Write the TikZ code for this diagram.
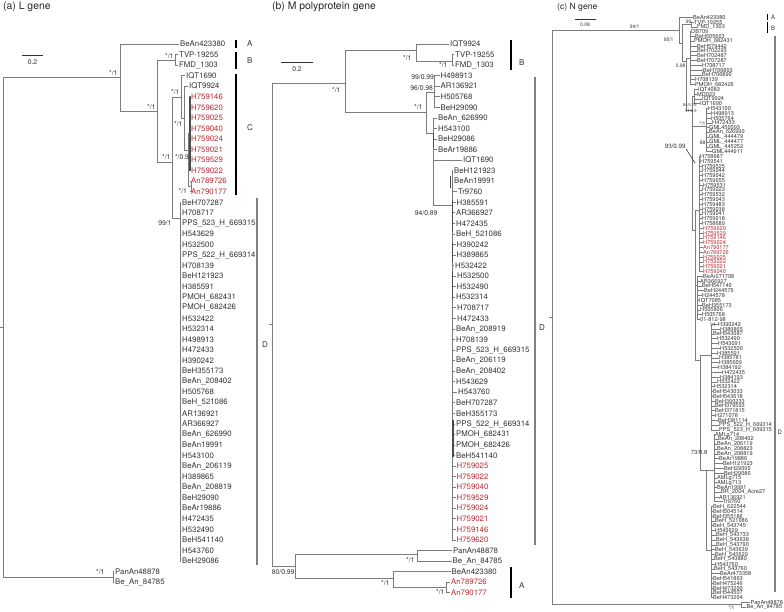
\documentclass[tikz,border=0pt]{standalone}
\usepackage{fontspec}
\setmainfont{TeX Gyre Heros}
\usetikzlibrary{positioning}
\definecolor{branchgray}{HTML}{7C7C7C}
\definecolor{leafgray}{HTML}{333333}
\definecolor{isored}{HTML}{C1272D}
\tikzset{
  branch/.style={draw=branchgray, line width=0.6pt},
  shortbranch/.style={draw=black!70, line width=1.3pt},
  leaf/.style={anchor=west, inner sep=1pt, text=leafgray, font=\fontsize{7.8}{8}\selectfont},
  redleaf/.style={leaf, text=isored},
  tinyleaf/.style={anchor=west, inner sep=0.4pt, text=leafgray, font=\fontsize{5.6}{5.6}\selectfont},
  tinyred/.style={tinyleaf, text=isored},
  support/.style={anchor=east, inner sep=0.3pt, text=leafgray, font=\fontsize{6.8}{7}\selectfont},
  tinysupport/.style={support, font=\fontsize{5}{5}\selectfont},
  cladebar/.style={draw=black, line width=1.1pt},
  wideclade/.style={draw=black!50, line width=2pt},
  cladelabel/.style={anchor=west, inner sep=0pt, text=leafgray, font=\fontsize{8}{8}\selectfont},
  tinyclade/.style={cladelabel, font=\fontsize{6}{6}\selectfont},
  paneltitle/.style={anchor=west, inner sep=0pt, text=black!85, font=\fontsize{10.4}{11}\selectfont},
  scalebar/.style={draw=leafgray, line width=0.6pt}
}

\begin{document}
\begin{tikzpicture}[x=1pt, y=-1pt]
  \useasboundingbox (0,0) rectangle (784,612);

  % (a) L gene
  \node[paneltitle] (ta) at (3,7) {(a) L gene};
  \draw[scalebar] (22,55) -- (43,55);
  \node[support, anchor=center] (sca) at (32.5,62) {0.2};

  \coordinate (aS) at (0,327);
  \coordinate (aR) at (3,327);
  \coordinate (aN1) at (120,77);
  \coordinate (aO) at (113,577);
  \coordinate (aN2) at (157,111);
  \coordinate (aB) at (175,60);
  \coordinate (aCD) at (172,162);
  \coordinate (aC) at (181,97);
  \coordinate (aC2) at (184,118);
  \coordinate (aC3) at (188,150);
  \coordinate (aC4) at (189.5,133);
  \coordinate (aC5) at (191,186);
  \coordinate (aD) at (180,218);

  \node[leaf] (a0) at (179,44) {BeAn423380};
  \node[leaf] (a1) at (178,54.55) {TVP-19255};
  \node[leaf] (a2) at (178,65.1) {FMD\_1303};
  \node[leaf] (a3) at (185,75.65) {IQT1690};
  \node[leaf] (a4) at (188,86.2) {IQT9924};
  \foreach \name [count=\i from 5] in {H759146, H759620, H759025, H759040, H759024, H759021, H759529, H759022, An789726, An790177}
    \node[redleaf] (a\i) at (190,{44+10.55*\i}) {\name};
  \foreach \name [count=\i from 15] in {BeH707287, H708717, PPS\_523\_H\_669315, H543629, H532500, PPS\_522\_H\_669314, H708139, BeH121923, H385591, PMOH\_682431, PMOH\_682426, H532422, H532314, H498913, H472433, H390242, BeH355173, BeAn\_208402, H505768, BeH\_521086, AR136921, AR366927, BeAn\_626990, BeAn19991, H543100, BeAn\_206119, H389865, BeAn\_208819, BeH29090, BeAr19886, H472435, H532490, BeH541140, H543760, BeH29086}
    \node[leaf] (a\i) at (181,{44+10.55*\i}) {\name};
  \node[leaf] (a50) at (114,571.5) {PanAn48878};
  \node[leaf] (a51) at (114,582) {Be\_An\_84785};

  \draw[branch] (aS) -- (aR);
  \draw[branch] (aR) |- (aN1);
  \draw[branch] (aR) |- (aO);
  \draw[branch] (aN1) |- (a0.west);
  \draw[branch] (aN1) |- (aN2);
  \draw[branch] (aN2) |- (aB);
  \draw[branch] (aN2) |- (aCD);
  \draw[branch] (aB) |- (a1.west);
  \draw[branch] (aB) |- (a2.west);
  \draw[branch] (aCD) |- (aC);
  \draw[branch] (aCD) |- (aD);
  \draw[branch] (aC) |- (a3.west);
  \draw[branch] (aC) |- (aC2);
  \draw[branch] (aC2) |- (a4.west);
  \draw[branch] (aC2) |- (aC3);
  \draw[branch] (aC3) |- (aC4);
  \draw[branch] (aC3) |- (aC5);
  \foreach \i in {5,...,12}
    \draw[branch] (aC4) |- (a\i.west);
  \draw[shortbranch] (a5.west) -- (a12.west);
  \draw[branch] (aC5) |- (a13.west);
  \draw[branch] (aC5) |- (a14.west);
  \foreach \i in {15,...,49}
    \draw[branch] (aD) |- (a\i.west);
  \draw[branch] (aO) |- (a50.west);
  \draw[branch] (aO) |- (a51.west);

  \node[support] (sa1) at (118,73) {*/1};
  \node[support] (sa2) at (156,107) {*/1};
  \node[support] (sa3) at (174,56) {*/1};
  \node[support] (sa4) at (180,92) {*/1};
  \node[support] (sa5) at (183,124) {*/1};
  \node[support] (sa6) at (171,157) {*/1};
  \node[support] (sa7) at (189.5,157) {*/0.9};
  \node[support] (sa8) at (187.5,191) {*/1};
  \node[support] (sa9) at (172,223) {99/1};
  \node[support] (sa10) at (105,572) {*/1};

  \draw[cladebar] (236,40) -- (236,48);
  \draw[cladebar] (236,52) -- (236,69);
  \draw[cladebar] (236,74) -- (236,195);
  \draw[wideclade] (257,198) -- (257,565);
  \node[cladelabel] (ka) at (247,44) {A};
  \node[cladelabel] (kb) at (247,61) {B};
  \node[cladelabel] (kc) at (247,128) {C};
  \node[cladelabel] (kd) at (262,345) {D};

  % (b) M polyprotein gene
  \node[paneltitle] (tb) at (272,7) {(b) M polyprotein gene};
  \draw[scalebar] (281,62) -- (313,62);
  \node[support, anchor=center] (scb) at (297,69) {0.2};

  \coordinate (bS) at (268.5,324);
  \coordinate (bR) at (272,324);
  \coordinate (bN1) at (345,83);
  \coordinate (bO) at (295,566);
  \coordinate (bB) at (416,50);
  \coordinate (bB2) at (452,61);
  \coordinate (bN2) at (426,112);
  \coordinate (bE1) at (434,92);
  \coordinate (bN3) at (433,133);
  \coordinate (bD) at (452,205);
  \coordinate (bP) at (417,554);
  \coordinate (bA) at (393,578);
  \coordinate (bA2) at (446,587);

  \node[leaf] (b0) at (449,44) {IQT9924};
  \node[leaf] (b1) at (454,54.55) {TVP-19255};
  \node[leaf] (b2) at (454,65.1) {FMD\_1303};
  \foreach \name [count=\i from 3] in {H498913, AR136921, H505768, BeH29090}
    \node[leaf] (b\i) at (439.5,{44+10.55*\i}) {\name};
  \foreach \name [count=\i from 7] in {BeAn\_626990, H543100, BeH29086, BeAr19886}
    \node[leaf] (b\i) at (437,{44+10.55*\i}) {\name};
  \node[leaf] (b11) at (462,160) {IQT1690};
  \foreach \x/\name [count=\i from 12] in {453/BeH121923, 453/BeAn19991, 457/Tr9760, 455.5/H385591, 455/AR366927, 455/H472435, 455/BeH\_521086, 455.5/H390242, 455.5/H389865, 454/H532422, 456/H532500, 455.5/H532490, 455/H532314, 456/H708717, 456/H472433, 455/BeAn\_208919, 455/H708139, 455/PPS\_523\_H\_669315, 455/BeAn\_206119, 455/BeAn\_208402, 455/H543629, 457/H543760, 455/BeH707287, 455/BeH355173, 455/PPS\_522\_H\_669314, 455/PMOH\_682431, 455/PMOH\_682426, 455/BeH541140}
    \node[leaf] (b\i) at (\x,{44+10.55*\i}) {\name};
  \foreach \name [count=\i from 40] in {H759025, H759022, H759040, H759529, H759024, H759021, H759146, H759620}
    \node[redleaf] (b\i) at (455.5,{44+10.55*\i}) {\name};
  \node[leaf] (b48) at (452,550.4) {PanAn48878};
  \node[leaf] (b49) at (451.5,561) {Be\_An\_84785};
  \node[leaf] (b50) at (450.5,571.5) {BeAn423380};
  \node[redleaf] (b51) at (450,582) {An789726};
  \node[redleaf] (b52) at (450,592.6) {An790177};

  \draw[branch] (bS) -- (bR);
  \draw[branch] (bR) |- (bN1);
  \draw[branch] (bR) |- (bO);
  \draw[branch] (bN1) |- (bB);
  \draw[branch] (bN1) |- (bN2);
  \draw[branch] (bB) |- (b0.west);
  \draw[branch] (bB) |- (bB2);
  \draw[branch] (bB2) |- (b1.west);
  \draw[branch] (bB2) |- (b2.west);
  \draw[branch] (bN2) |- (bE1);
  \draw[branch] (bN2) |- (bN3);
  \foreach \i in {3,...,6}
    \draw[branch] (bE1) |- (b\i.west);
  \foreach \i in {7,...,11}
    \draw[branch] (bN3) |- (b\i.west);
  \draw[branch] (bN3) |- (bD);
  \foreach \i in {12,...,47}
    \draw[branch] (bD) |- (b\i.west);
  \draw[branch] (bO) |- (bP);
  \draw[branch] (bO) |- (bA);
  \draw[branch] (bP) |- (b48.west);
  \draw[branch] (bP) |- (b49.west);
  \draw[branch] (bA) |- (b50.west);
  \draw[branch] (bA) |- (bA2);
  \draw[branch] (bA2) |- (b51.west);
  \draw[branch] (bA2) |- (b52.west);
  \draw[shortbranch] (433.5,133) -- (433.5,148);
  \draw[shortbranch] (450.5,176) -- (450.5,188);
  \draw[shortbranch] (452.5,200) -- (452.5,232);
  \draw[shortbranch] (452.5,242) -- (452.5,262);
  \draw[shortbranch] (452.5,272) -- (452.5,300);
  \draw[shortbranch] (453,420) -- (453,457);

  \node[support] (sb1) at (341,90) {*/1};
  \node[support] (sb2) at (412,58) {*/1};
  \node[support] (sb3) at (448,65) {*/1};
  \node[support] (sb4) at (434.5,77) {99/0.99};
  \node[support] (sb5) at (433.5,88) {96/0.98};
  \node[support] (sb6) at (423,107) {*/1};
  \node[support] (sb7) at (438,213) {94/0.89};
  \node[support] (sb8) at (415,560) {*/1};
  \node[support] (sb9) at (295,572) {80/0.99};
  \node[support] (sb10) at (390,583) {*/1};
  \node[support] (sb11) at (445,592) {*/1};

  \draw[cladebar] (511,40) -- (511,70);
  \draw[wideclade] (535,77) -- (535,545);
  \draw[cladebar] (511,567) -- (511,598);
  \node[cladelabel] (kbb) at (519,63) {B};
  \node[cladelabel] (kbd) at (539,328) {D};
  \node[cladelabel] (kba) at (519,586) {A};

  % (c) N gene
  \node[paneltitle, font=\fontsize{8.6}{9}\selectfont] (tc) at (557,7) {(c) N gene};
  \draw[scalebar] (575,19) -- (596,19);
  \node[tinysupport, anchor=center] (scc) at (585,25) {0.08};

  \coordinate (cS) at (549,317);
  \coordinate (cR) at (552,317);
  \coordinate (cN1) at (679,30);
  \coordinate (cO) at (741,604.6);
  \coordinate (cN2) at (682,43);
  \coordinate (cB) at (691,24.5);
  \coordinate (cD) at (686,61);
  \coordinate (cG1) at (690,58);
  \coordinate (cD2) at (692,110);
  \coordinate (cG1b) at (694,96);
  \coordinate (cG2) at (706,126);
  \coordinate (cD3) at (695,230);
  \coordinate (cG3) at (699,210);
  \coordinate (cG4) at (697,285);
  \coordinate (cD4) at (700,360);
  \coordinate (cG5) at (711,355);
  \coordinate (cD5) at (706,470);
  \coordinate (cG6) at (714,470);
  \coordinate (cG7) at (711,550);
  \coordinate (cL) at (695,163);

  \foreach \g/\x/\s/\name [count=\i] in {
    cN1/693/tinyleaf/BeAn423380, cB/694/tinyleaf/TVP-19255, cB/697/tinyleaf/FMD\_1303,
    cG1/691/tinyleaf/DB709, cG1/695/tinyleaf/BeH505663, cG1/694/tinyleaf/PMOH\_682431,
    cG1/697/tinyleaf/BeH579442, cG1/697/tinyleaf/BeH702293, cG1/697/tinyleaf/BeH702487,
    cG1/697/tinyleaf/BeH707287, cG1/702/tinyleaf/H708717, cG1/703/tinyleaf/BeH706893,
    cG1/702/tinyleaf/BeH706890, cG1/695/tinyleaf/H708139, cG1/695/tinyleaf/PMOH\_682426,
    cG1b/698/tinyleaf/IQT4083, cG1b/697/tinyleaf/MD023, cG1b/702/tinyleaf/IQT9924,
    cG1b/700/tinyleaf/IQT1690, cG2/708/tinyleaf/H543100, cG2/711/tinyleaf/H498913,
    cG2/711/tinyleaf/H505764, cG2/712/tinyleaf/H472433, cG2/709/tinyleaf/GML450093,
    cG2/709/tinyleaf/BeAn\_626990, cG2/709/tinyleaf/GML\_444479, cG2/709/tinyleaf/GML\_444477,
    cG2/709/tinyleaf/GML\_445252, cG2/712/tinyleaf/GML444911, cG3/700/tinyleaf/H758687,
    cG3/700/tinyleaf/H759541, cG3/702/tinyleaf/H759525, cG3/702/tinyleaf/H759044,
    cG3/702/tinyleaf/H759042, cG3/702/tinyleaf/H759655, cG3/703/tinyleaf/H759531,
    cG3/702/tinyleaf/H759023, cG3/702/tinyleaf/H759532, cG3/702/tinyleaf/H759043,
    cG3/702/tinyleaf/H759483, cG3/702/tinyleaf/H759038, cG3/702/tinyleaf/H759041,
    cG3/702/tinyleaf/H759018, cG3/702/tinyleaf/H758689, cG3/703/tinyred/H759620,
    cG3/703/tinyred/H759529, cG3/703/tinyred/H759146, cG3/703/tinyred/H759024,
    cG3/703/tinyred/An790177, cG3/703/tinyred/An789726, cG3/703/tinyred/H759025,
    cG3/703/tinyred/H759022, cG3/703/tinyred/H759021, cG3/703/tinyred/H759040,
    cG4/703/tinyleaf/BeAr271708, cG4/700/tinyleaf/AR366927, cG4/702/tinyleaf/BeH541140,
    cG4/704/tinyleaf/BeH244576, cG4/702/tinyleaf/H244578, cG4/699/tinyleaf/IQT7085,
    cG4/702/tinyleaf/BeH355173, cG4/700/tinyleaf/H505806, cG4/702/tinyleaf/H505768,
    cG4/700/tinyleaf/01-812-98, cG5/718/tinyleaf/H390242, cG5/720/tinyleaf/H389865,
    cG5/713/tinyleaf/BeH543087, cG5/717/tinyleaf/H532490, cG5/718/tinyleaf/H543091,
    cG5/720/tinyleaf/H532500, cG5/717/tinyleaf/H385591, cG5/719/tinyleaf/H385781,
    cG5/719/tinyleaf/H385609, cG5/718/tinyleaf/H384192, cG5/722/tinyleaf/H472435,
    cG5/720/tinyleaf/H384193, cG5/717/tinyleaf/H532422, cG5/714/tinyleaf/H532314,
    cG5/713/tinyleaf/BeH543033, cG5/713/tinyleaf/BeH543618, cG5/715/tinyleaf/BeH390233,
    cG5/715/tinyleaf/BeH379593, cG5/715/tinyleaf/BeH371815, cG5/715/tinyleaf/H271078,
    cG5/718/tinyleaf/BeH381114, cG5/719/tinyleaf/PPS\_522\_H\_669314, cG5/719/tinyleaf/PPS\_523\_H\_669315,
    cG6/715/tinyleaf/AMLg714, cG6/718/tinyleaf/BeAn\_208402, cG6/717/tinyleaf/BeAn\_206119,
    cG6/717/tinyleaf/BeAn\_208823, cG6/717/tinyleaf/BeAn\_208819, cG6/719/tinyleaf/BeAr19886,
    cG6/723/tinyleaf/BeH121923, cG6/724/tinyleaf/BeH29090, cG6/724/tinyleaf/BeH29086,
    cG6/717/tinyleaf/AMLg715, cG6/717/tinyleaf/AMLg713, cG6/717/tinyleaf/BeAn19991,
    cG6/721/tinyleaf/BR\_2004\_Acre27, cG6/719/tinyleaf/AR136921, cG6/723/tinyleaf/Tr9760,
    cG7/713/tinyleaf/BeH\_622544, cG7/713/tinyleaf/BeH504514, cG7/713/tinyleaf/BeH355186,
    cG7/715/tinyleaf/BeH\_521086, cG7/713/tinyleaf/BeH\_543745, cG7/715/tinyleaf/H543629,
    cG7/716/tinyleaf/BeH\_543733, cG7/716/tinyleaf/BeH\_543638, cG7/716/tinyleaf/BeH\_543790,
    cG7/715/tinyleaf/BeH\_543639, cG7/715/tinyleaf/BeH\_543629, cG7/714/tinyleaf/BeH\_543880,
    cG7/715/tinyleaf/H543760, cG7/714/tinyleaf/BeH\_543760, cG7/720/tinyleaf/BeAr473358,
    cG7/713/tinyleaf/BeH541863, cG7/713/tinyleaf/BeH475246, cG7/713/tinyleaf/BeH473200,
    cG7/713/tinyleaf/BeH544507, cG7/713/tinyleaf/BeH473204, cO/750.5/tinyleaf/PanAn48878,
    cO/746.5/tinyleaf/Be\_An\_84785}{
    \node[\s] (c\i) at (\x-0.4,{17.3+4.797*(\i-1)}) {\name};
    \draw[branch] (\g) |- (c\i.west);
  }

  \draw[branch] (cS) -- (cR);
  \draw[branch] (cR) |- (cN1);
  \draw[branch] (cR) |- (cO);
  \draw[branch] (cN1) |- (cN2);
  \draw[branch] (cN2) |- (cB);
  \draw[branch] (cN2) |- (cD);
  \draw[branch] (cD) |- (cG1);
  \draw[branch] (cD) |- (cD2);
  \draw[branch] (cD2) |- (cG1b);
  \draw[branch] (cD2) |- (cG2);
  \draw[branch] (cD2) |- (cD3);
  \draw[branch] (cD3) |- (cG3);
  \draw[branch] (cD3) |- (cG4);
  \draw[branch] (cD3) |- (cD4);
  \draw[branch] (cD4) |- (cG5);
  \draw[branch] (cD4) |- (cD5);
  \draw[branch] (cD5) |- (cG6);
  \draw[branch] (cD5) |- (cG7);

  \node[tinysupport] (sc1) at (640,27) {94/1};
  \node[tinysupport] (sc2) at (692,22) {99};
  \node[tinysupport] (sc3) at (674,40) {95/1};
  \node[tinysupport] (sc4) at (686,66) {0.98};
  \node[tinysupport, font=\fontsize{4}{4}\selectfont] (sc5) at (697,105) {84/0.79};
  \node[tinysupport, font=\fontsize{4}{4}\selectfont] (sc6) at (697,111) {81/0.9};
  \node[tinysupport] (sc7) at (706,124) {*/1};
  \node[tinysupport] (sc8) at (706,143) {88};
  \node[tinysupport, font=\fontsize{6.2}{6}\selectfont] (sc9) at (686,146) {93/0.99};
  \node[tinysupport] (sc10) at (716.5,324.8) {*/1};
  \node[tinysupport, font=\fontsize{6}{6}\selectfont] (sc11) at (708,452) {73/0.8};
  \node[tinysupport] (sc12) at (735,608) {*/1};
  \draw[branch, draw=leafgray] (sc9.south east) -- (cL);

  \draw[cladebar, line width=0.9pt] (767,14) -- (767,20);
  \draw[cladebar, line width=0.9pt] (767,22) -- (767,33);
  \draw[wideclade, line width=1.6pt] (775,36) -- (775,592);
  \node[tinyclade] (kca) at (771,17) {A};
  \node[tinyclade] (kcb) at (771,28) {B};
  \node[tinyclade] (kcd) at (777.5,432) {D};
\end{tikzpicture}
\end{document}
